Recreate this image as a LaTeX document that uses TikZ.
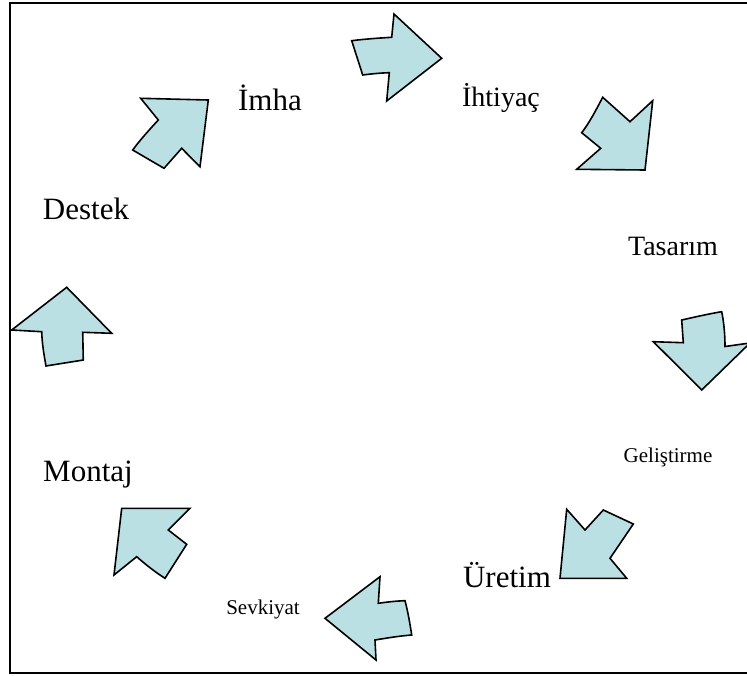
\documentclass[tikz,border=0pt]{standalone}
\usepackage{fontspec}
\setmainfont{Liberation Serif}
\definecolor{arrowfill}{RGB}{187,224,227}
\tikzset{
  blockarrow/.style={draw=black, fill=arrowfill, line width=1.6pt, line join=miter},
  bigtext/.style={font=\fontsize{31}{34}\selectfont, inner sep=0pt},
  midtext/.style={font=\fontsize{28}{31}\selectfont, inner sep=0pt},
  smalltext/.style={font=\fontsize{21}{24}\selectfont, inner sep=0pt},
  frame/.style={draw=black, line width=1.6pt}
}
\begin{document}
\begin{tikzpicture}[x=1pt,y=-1pt]
\useasboundingbox (0,0) rectangle (747,675);
% frame (right edge lies outside the picture)
\draw[frame] (760,3) -- (10,3) -- (10,673) -- (760,673);
% arrows
\draw[blockarrow] (351.7,40.7) .. controls (365,39) and (380,38) .. (391.7,37.3) -- (394,14) -- (441.7,58.3) -- (386.7,101) -- (389.3,72.7) .. controls (380,73) and (370,74) .. (362.7,75) -- cycle;
\draw[blockarrow] (602.7,97.3) -- (630,121.7) -- (652.7,100.7) -- (645,170) -- (576.7,169.3) -- (600.7,148.3) -- (581.7,132.7) .. controls (590,122) and (597,108) .. cycle;
\draw[blockarrow] (681.7,320) .. controls (695,317) and (708,314) .. (721.7,311.7) .. controls (724,323) and (725,335) .. (725,346.5) -- (750,343) -- (701.7,390) -- (653.3,341.7) -- (683.3,342.7) -- cycle;
\draw[blockarrow] (566.7,509.3) -- (585,530) -- (603.3,510) -- (633.3,524) -- (610,558.3) -- (626.7,578.3) -- (560,578.3) -- cycle;
\draw[blockarrow] (380,576.7) -- (378.3,603.3) .. controls (387,602) and (396,601) .. (405,600.7) .. controls (408,612) and (410,624) .. (411.7,635) .. controls (399,636) and (387,638) .. (375,640) -- (376,660) -- (325,618.3) -- cycle;
\draw[blockarrow] (121.7,508.3) -- (190,508.3) -- (168.3,530) -- (186.7,544.3) -- (165,578.3) .. controls (155,572) and (145,564) .. (136.7,556.7) -- (114,575) -- cycle;
\draw[blockarrow] (66.7,287.3) -- (111.7,333.3) -- (82.7,332.3) .. controls (83,341) and (83,351) .. (83.3,360) .. controls (71,362) and (58,364) .. (46,366) .. controls (44,355) and (42,343) .. (41.7,331.7) -- (11.7,330) -- cycle;
\draw[blockarrow] (140.7,98.3) -- (208.3,100) -- (200,166.7) -- (181.7,148.3) -- (164,168.3) -- (132.7,150) .. controls (140,140) and (150,129) .. (158.3,120) -- cycle;
% labels
\node[bigtext] (imha) at (270,98) {İmha};
\node[midtext] (ihtiyac) at (501,98) {İhtiyaç};
\node[midtext] (tasarim) at (673,246) {Tasarım};
\node[smalltext] (gelistirme) at (668,457) {Geliştirme};
\node[bigtext] (uretim) at (507,575) {Üretim};
\node[smalltext] (sevkiyat) at (263,609) {Sevkiyat};
\node[bigtext] (montaj) at (88,475) {Montaj};
\node[bigtext] (destek) at (86,209) {Destek};
\end{tikzpicture}
\end{document}
